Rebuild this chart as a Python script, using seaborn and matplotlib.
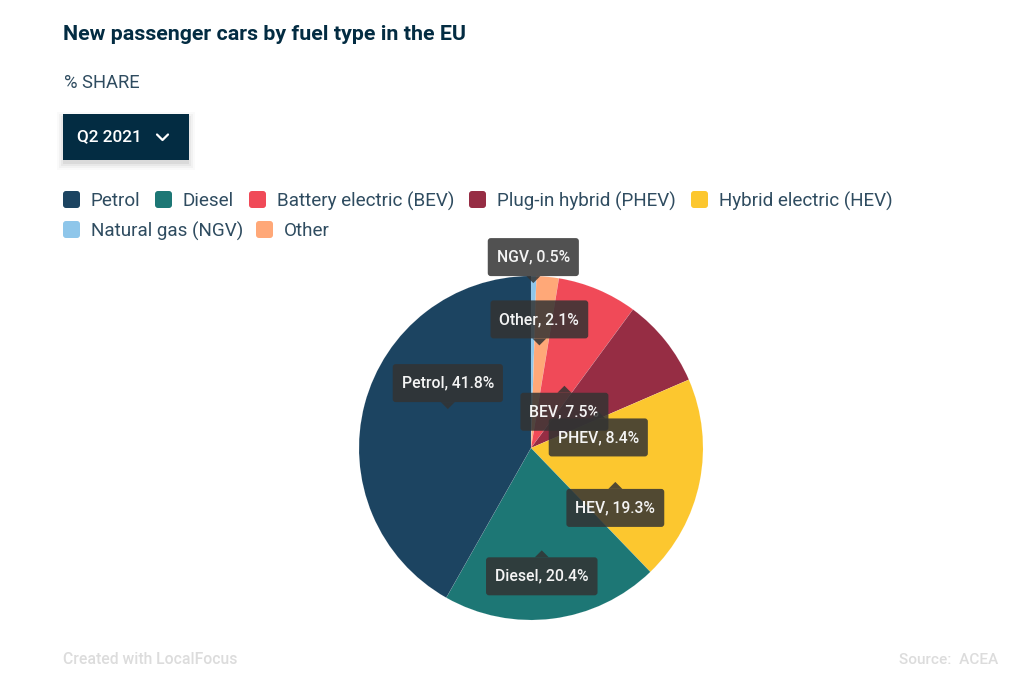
import numpy as np
import pandas as pd
import matplotlib
matplotlib.use('Agg')
import matplotlib.pyplot as plt
import seaborn as sns
from matplotlib.patches import FancyBboxPatch, Polygon, Rectangle

# data
fuel_names = ['Petrol', 'Diesel', 'Battery electric (BEV)', 'Plug-in hybrid (PHEV)',
              'Hybrid electric (HEV)', 'Natural gas (NGV)', 'Other']
short_names = ['Petrol', 'Diesel', 'BEV', 'PHEV', 'HEV', 'NGV', 'Other']
shares = [41.8, 20.4, 7.5, 8.4, 19.3, 0.5, 2.1]
fuel_colors = ['#1c4461', '#1d7775', '#f04a58', '#962d44', '#fcc72f', '#8ec6ea', '#ffa878']
slice_order = ['NGV', 'Other', 'BEV', 'PHEV', 'HEV', 'Diesel', 'Petrol']

# tooltip placement: radial position as share of radius, and side of the tip
tip_radius = {'NGV': 0.86}
tip_above = ['Petrol', 'Other', 'NGV']

DARK = '#032c42'
TEXT = '#2f4c60'
FOOT = '#dcdcdc'

sns.set_theme(style='white')
plt.rcParams['font.family'] = ['Roboto', 'DejaVu Sans']
palette = sns.color_palette(fuel_colors)

df = pd.DataFrame({'name': fuel_names, 'short': short_names, 'share': shares,
                   'color': list(palette)}).set_index('short')
pie_df = df.loc[slice_order]

W, H = 1032, 693
fig = plt.figure(figsize=(W / 100, H / 100), dpi=100, facecolor='white')

# pie axes, centre (531, 448) radius 172 in pixels
cx, cy, rad = 531, 448, 172
ax_pie = fig.add_axes([(cx - rad) / W, 1 - (cy + rad) / H, 2 * rad / W, 2 * rad / H])
ax_pie.pie(pie_df['share'], colors=pie_df['color'], startangle=90, counterclock=False,
           radius=1, wedgeprops={'linewidth': 0.15, 'edgecolor': '#ffffff50'})
ax_pie.set_xlim(-1, 1)
ax_pie.set_ylim(-1, 1)
ax_pie.axis('off')

# overlay in pixel coords for everything around the pie
ax = fig.add_axes([0, 0, 1, 1], zorder=5)
ax.set_xlim(0, W)
ax.set_ylim(H, 0)
ax.axis('off')
ax.patch.set_alpha(0)

ax.text(63, 35, 'New passenger cars by fuel type in the EU', fontsize=15.4, fontweight='bold',
        color=DARK, va='center', ha='left')
ax.text(64, 83, '% SHARE', fontsize=13.2, color=TEXT, va='center', ha='left')

# dropdown button with soft shadow
for grow, alpha in zip([6, 4, 2, 0], [0.02, 0.03, 0.04, 0.06]):
    ax.add_patch(Rectangle((63 - grow, 118 - grow), 126 + 2 * grow, 46 + 2 * grow,
                           fc='black', alpha=alpha, lw=0))
ax.add_patch(Rectangle((63, 114), 126, 46, fc=DARK, lw=0))
ax.text(77, 137, 'Q2 2021', fontsize=12.4, fontweight='medium', color='white', va='center', ha='left')
ax.plot([157, 162.5, 168], [134.5, 140, 134.5], color='white', lw=1.6)

# legend rows, flowed like the original
legend_pos = {'Petrol': (63, 200), 'Diesel': (155, 200), 'BEV': (249, 200), 'PHEV': (469, 200),
              'HEV': (691, 200), 'NGV': (63, 230), 'Other': (256, 230)}
for short, (x, y) in legend_pos.items():
    ax.add_patch(FancyBboxPatch((x + 2, y - 7), 13, 13, boxstyle='round,pad=2,rounding_size=3',
                                fc=df.loc[short, 'color'], lw=0))
    ax.text(x + 28, y + 1, df.loc[short, 'name'], fontsize=13.55, color=TEXT, va='center', ha='left')

# tooltips, anchored on mid angle of each slice
cum = pie_df['share'].cumsum() - pie_df['share'] / 2
renderer = fig.canvas.get_renderer()
for z, short in enumerate(short_names):
    ang = np.deg2rad(cum[short] * 3.6)
    r = rad * tip_radius.get(short, 0.5)
    ax_x = cx + r * np.sin(ang)
    ax_y = cy - r * np.cos(ang)
    sign = -1 if short in tip_above else 1
    tip_y = ax_y + sign * 18
    box_y = tip_y + sign * 25
    label = f'{short}, {df.loc[short, "share"]:.1f}%'
    t = ax.text(ax_x, box_y, label, fontsize=11.3, fontweight='medium', color='#f4f4f4',
                ha='center', va='center', zorder=10 + 2 * z + 1)
    tw = t.get_window_extent(renderer).width
    bw = tw + 18
    box = FancyBboxPatch((ax_x - bw / 2 + 3, box_y - 16), bw - 6, 32,
                         boxstyle='round,pad=3,rounding_size=3',
                         fc=(0.2, 0.2, 0.2, 0.85), lw=0, zorder=10 + 2 * z)
    ax.add_patch(box)
    ax.add_patch(Polygon([(ax_x - 7, tip_y + sign * 6), (ax_x + 7, tip_y + sign * 6), (ax_x, tip_y - sign * 1)],
                         closed=True, fc=(0.2, 0.2, 0.2, 0.85), lw=0, zorder=10 + 2 * z))

ax.text(63, 660, 'Created with LocalFocus', fontsize=11.3, color=FOOT, va='center', ha='left', fontweight='medium')
ax.text(998, 660, 'Source:  ACEA', fontsize=11.1, color=FOOT, va='center', ha='right', fontweight='medium')

fig.savefig('out.png', dpi=100)
